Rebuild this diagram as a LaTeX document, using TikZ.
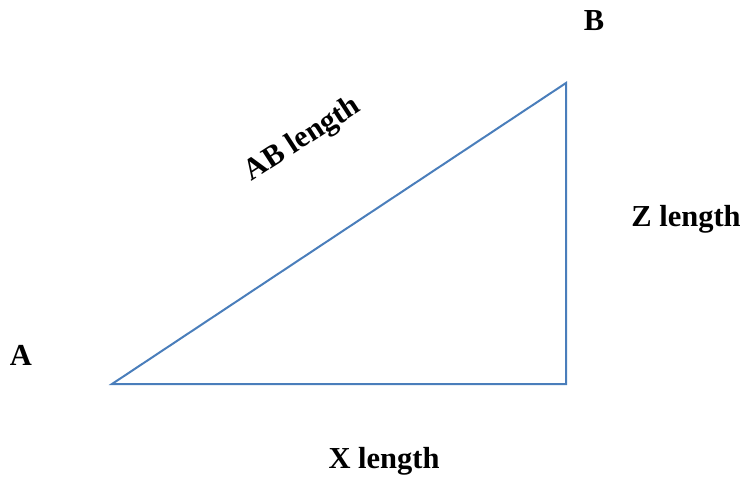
\documentclass[tikz,border=0pt]{standalone}
\usepackage{fontspec}
\setmainfont{Liberation Serif}
\definecolor{tri}{HTML}{4A7EBB}
\tikzset{lbl/.style={font=\fontsize{30.5}{34}\selectfont\bfseries, inner sep=0pt}}
\begin{document}
\begin{tikzpicture}[x=1pt,y=-1pt]
\useasboundingbox (0,0) rectangle (745,477);
\coordinate (a) at (112,384);
\coordinate (c) at (566,384);
\coordinate (b) at (566,83);
\draw[tri, line width=2pt, line join=miter] (a) -- (c) -- (b) -- cycle;
\node[lbl] (la) at (21,355) {A};
\node[lbl] (lb) at (594,21) {B};
\node[lbl, rotate=33] (lab) at (303,140) {AB length};
\node[lbl] (lz) at (686,219) {Z length};
\node[lbl] (lx) at (384,461) {X length};
\end{tikzpicture}
\end{document}
